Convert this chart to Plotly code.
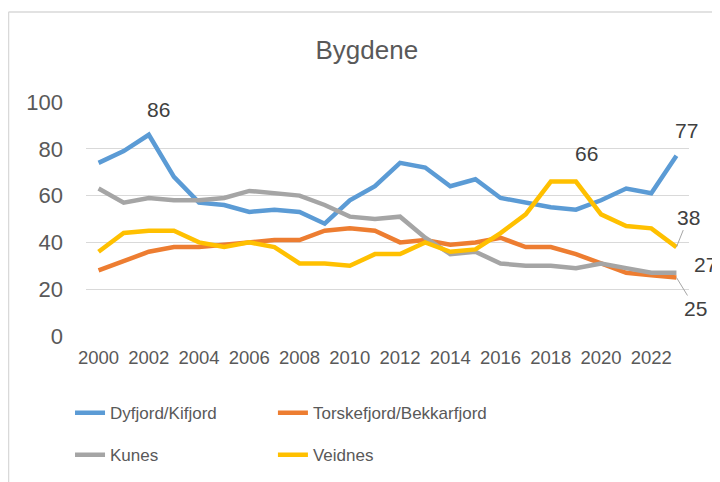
import plotly.graph_objects as go

years = list(range(2000, 2024))
dyfjord = [74, 79, 86, 68, 57, 56, 53, 54, 53, 48, 58, 64, 74, 72, 64, 67, 59, 57, 55, 54, 58, 63, 61, 77]
torskefjord = [28, 32, 36, 38, 38, 39, 40, 41, 41, 45, 46, 45, 40, 41, 39, 40, 42, 38, 38, 35, 31, 27, 26, 25]
kunes = [63, 57, 59, 58, 58, 59, 62, 61, 60, 56, 51, 50, 51, 42, 35, 36, 31, 30, 30, 29, 31, 29, 27, 27]
veidnes = [36, 44, 45, 45, 40, 38, 40, 38, 31, 31, 30, 35, 35, 40, 36, 37, 44, 52, 66, 66, 52, 47, 46, 38]

names = ["Dyfjord/Kifjord", "Torskefjord/Bekkarfjord", "Kunes", "Veidnes"]
colors = ["#5B9BD5", "#ED7D31", "#A5A5A5", "#FFC000"]
series = [dyfjord, torskefjord, kunes, veidnes]
legends = ["legend", "legend2", "legend", "legend2"]

FONT = "Liberation Sans, Arial, sans-serif"
TXT = "#595959"

fig = go.Figure()
for name, col, vals, lg in zip(names, colors, series, legends):
    fig.add_trace(go.Scatter(
        x=years, y=vals, name=name, mode="lines",
        line=dict(color=col, width=4.5),
        legend=lg, legendgroup=name,
    ))

# data labels: (series values, index, xshift, yshift, ax, ay)
labels = [
    (dyfjord, 2, 10, 25, None, None),
    (veidnes, 19, 11, 28, None, None),
    (dyfjord, 23, 10, 25, None, None),
    (veidnes, 23, None, None, 12, -30),
    (kunes, 23, 29, 8, None, None),
    (torskefjord, 23, None, None, 19, 31),
]
for vals, i, xs, ys, ax, ay in labels:
    if ax is None:
        fig.add_annotation(x=years[i], y=vals[i], text=str(vals[i]), showarrow=False,
                           xshift=xs, yshift=ys,
                           font=dict(family=FONT, size=21, color="#404040"))
    else:
        fig.add_annotation(x=years[i], y=vals[i], text=str(vals[i]), showarrow=True,
                           ax=ax, ay=ay, arrowhead=0, arrowwidth=1, arrowcolor="#A6A6A6",
                           standoff=0, startstandoff=0,
                           font=dict(family=FONT, size=21, color="#404040"))

# chart border (left and top edges visible)
bx = -0.1285
by = 1.3846
fig.add_shape(type="line", xref="paper", yref="paper", x0=bx, x1=bx, y0=-1, y1=by,
              line=dict(color="#D9D9D9", width=1.5))
fig.add_shape(type="line", xref="paper", yref="paper", x0=bx, x1=1.2, y0=by, y1=by,
              line=dict(color="#D9D9D9", width=1.5))

legend_common = dict(
    orientation="v", yanchor="top", y=-0.253, xanchor="left",
    font=dict(family=FONT, size=17, color=TXT),
    tracegroupgap=17, bgcolor="rgba(0,0,0,0)",
)

fig.update_layout(
    width=712, height=474,
    margin=dict(l=78, r=31, t=94, b=146, autoexpand=False),
    paper_bgcolor="white", plot_bgcolor="white",
    title=dict(text="Bygdene", x=0.504, xref="container", xanchor="center",
               y=1 - 42 / 474, yref="container", yanchor="middle",
               font=dict(family=FONT, size=26, color=TXT)),
    xaxis=dict(range=[1999.5, 2023.5], tickmode="array", tickvals=years[::2],
               showgrid=False, zeroline=False, showline=False, ticks="",
               tickfont=dict(family=FONT, size=18.5, color=TXT), ticklabelstandoff=8),
    yaxis=dict(range=[0, 100], tickvals=[0, 20, 40, 60, 80, 100],
               showgrid=True, gridcolor="#D9D9D9", gridwidth=1, zeroline=False,
               showline=False, ticks="",
               tickfont=dict(family=FONT, size=22, color=TXT), ticklabelstandoff=22),
    legend=dict(x=-0.0265, **legend_common),
    legend2=dict(x=0.310, **legend_common),
    showlegend=True,
)

fig.write_html("out.html")
